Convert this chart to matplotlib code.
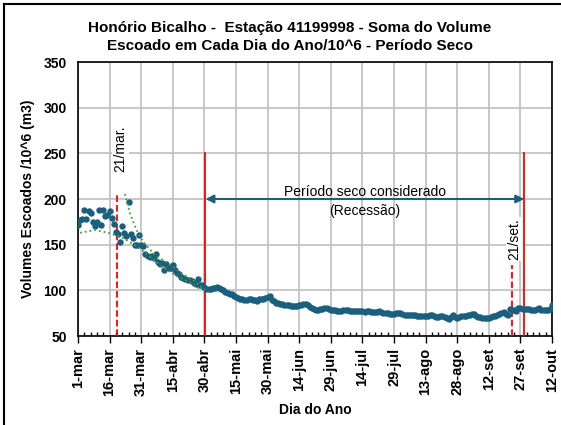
import numpy as np
import matplotlib
matplotlib.use("Agg")
import matplotlib.pyplot as plt
from matplotlib.lines import Line2D

# day of year counted from 1-mar (0) to 12-out (225)
volumes = [
    171, 177, 178, 188, 178, 187, 185, 175, 170, 175,
    188, 171, 188, 181, 182, 187, 179, 173, 164, 162,
    153, 170, 163, 159, 197, 162, 157, 150, 150, 161,
    150, 149, 140, 138, 137, 138, 135, 140, 131, 129,
    130, 122, 129, 125, 125, 128, 122, 119, 118, 115,
    113, 112, 111, 111, 110, 108, 107, 112, 106, 106,
    104, 102, 102, 102, 103, 103, 104, 103, 102, 100,
    98, 97, 96, 96, 94, 93, 92, 91, 90, 89,
    89, 90, 90, 89, 89, 88, 90, 90, 91, 92,
    93, 94, 89, 88, 86, 86, 85, 85, 84, 84,
    84, 83, 83, 83, 83, 84, 84, 85, 85, 84,
    82, 81, 80, 79, 79, 80, 80, 81, 81, 80,
    79, 78, 78, 77, 77, 77, 78, 78, 78, 77,
    77, 77, 77, 77, 77, 77, 76, 77, 77, 76,
    76, 76, 76, 77, 76, 75, 75, 75, 74, 74,
    74, 75, 75, 75, 74, 73, 73, 73, 73, 73,
    73, 72, 72, 72, 72, 72, 72, 73, 73, 72,
    71, 71, 72, 72, 71, 70, 69, 71, 73, 71,
    70, 71, 72, 72, 72, 73, 73, 74, 74, 72,
    71, 71, 70, 70, 70, 70, 71, 72, 72, 73,
    74, 75, 76, 74, 73, 80, 79, 78, 77, 81,
    81, 80, 80, 80, 80, 79, 78, 79, 80, 81,
    79, 78, 78, 78, 80, 84,
]
days = np.arange(len(volumes))

# trend curves (green dotted)
upper_days = [22.3, 24.7, 27.8, 31, 36.5, 42.9, 49.2, 55.5, 60.3]
upper_vals = [205.5, 184, 166, 153, 138.7, 129.6, 118.6, 109.5, 100.4]
lower_days = [1, 8, 14.4, 20.7, 27, 33.4, 39.7, 46, 52.4, 58.7]
lower_vals = [163, 166, 163, 158, 149.6, 138.7, 126, 116.8, 109.5, 100.4]

tick_days = list(range(0, 226, 15))
tick_labels = ["1-mar", "16-mar", "31-mar", "15-abr", "30-abr", "15-mai", "30-mai",
               "14-jun", "29-jun", "14-jul", "29-jul", "13-ago", "28-ago",
               "12-set", "27-set", "12-out"]

start_dry = 60.5
end_dry = 211.8
mark_mar = 18.7
mark_set = 205.8

blue = "#1b5f7e"
plt.rcParams["font.family"] = ["Liberation Sans", "DejaVu Sans"]

fig = plt.figure(figsize=(5.61, 4.25), dpi=100)
ax = fig.add_axes([0.139, 0.2094, 0.845, 0.6447])

ax.plot(days, volumes, "o", color=blue, markersize=4.6, markeredgewidth=0, zorder=4)
ax.plot(upper_days, upper_vals, ":", color="#4a9a3a", lw=1.3, zorder=5)
ax.plot(lower_days, lower_vals, ":", color="#4a9a3a", lw=1.3, zorder=5)

ax.plot([start_dry, start_dry], [50, 250], color="red", lw=1.3, zorder=3)
ax.plot([end_dry, end_dry], [50, 250], color="red", lw=1.3, zorder=3)
ax.plot([mark_mar, mark_mar], [50, 207], "--", color="red", lw=1.3, zorder=3)
ax.plot([mark_set, mark_set], [50, 128], "--", color="red", lw=1.3, zorder=3)

ax.text(mark_mar + 1.5, 255, "21/mar.", rotation=90, ha="center", va="center",
        fontsize=10, bbox=dict(facecolor="white", edgecolor="none", pad=1))
ax.text(mark_set + 1.5, 156, "21/set.", rotation=90, ha="center", va="center",
        fontsize=10, bbox=dict(facecolor="white", edgecolor="none", pad=1))

ax.annotate("", xy=(start_dry, 200), xytext=(end_dry, 200),
            arrowprops=dict(arrowstyle="<|-|>", color=blue, lw=1.5,
                            mutation_scale=12, shrinkA=0, shrinkB=0), zorder=6)
ax.text((start_dry + end_dry) / 2, 208, "Período seco considerado", ha="center",
        va="center", fontsize=10)
ax.text((start_dry + end_dry) / 2, 187, "(Recessão)", ha="center", va="center",
        fontsize=10)

ax.set_xlim(0, 225)
ax.set_ylim(50, 350)
ax.set_xticks(tick_days)
ax.set_xticklabels(tick_labels, rotation=90, fontweight="bold", fontsize=10.5)
ax.set_xticks(np.arange(0, 226, 3), minor=True)
ax.set_yticks(range(50, 351, 50))
ax.tick_params(axis="y", labelsize=10, length=0, pad=8)
for lab in ax.get_yticklabels():
    lab.set_fontweight("bold")
ax.tick_params(axis="x", which="major", direction="out", length=5, width=1)
ax.tick_params(axis="x", which="minor", direction="in", length=3, width=1)
ax.grid(True, which="major", color="#bfbfbf", lw=1.2)
for s in ax.spines.values():
    s.set_color("black")
    s.set_linewidth(1.2)

ax.set_xlabel("Dia do Ano", fontweight="bold", fontsize=10, labelpad=5)
ax.set_ylabel("Volumes Escoados /10^6 (m3)", fontweight="bold", fontsize=10, labelpad=6)

fig.text(0.517, 0.913, "Honório Bicalho -  Estação 41199998 - Soma do Volume\n"
         "Escoado em Cada Dia do Ano/10^6 - Período Seco",
         ha="center", va="center", fontsize=11, fontweight="bold", linespacing=1.4)

fig.add_artist(Line2D([0.008, 0.008], [0, 0.99], color="black", lw=1.5))
fig.add_artist(Line2D([0.008, 1], [0.99, 0.99], color="black", lw=1.5))

fig.savefig("out.png", dpi=100)
